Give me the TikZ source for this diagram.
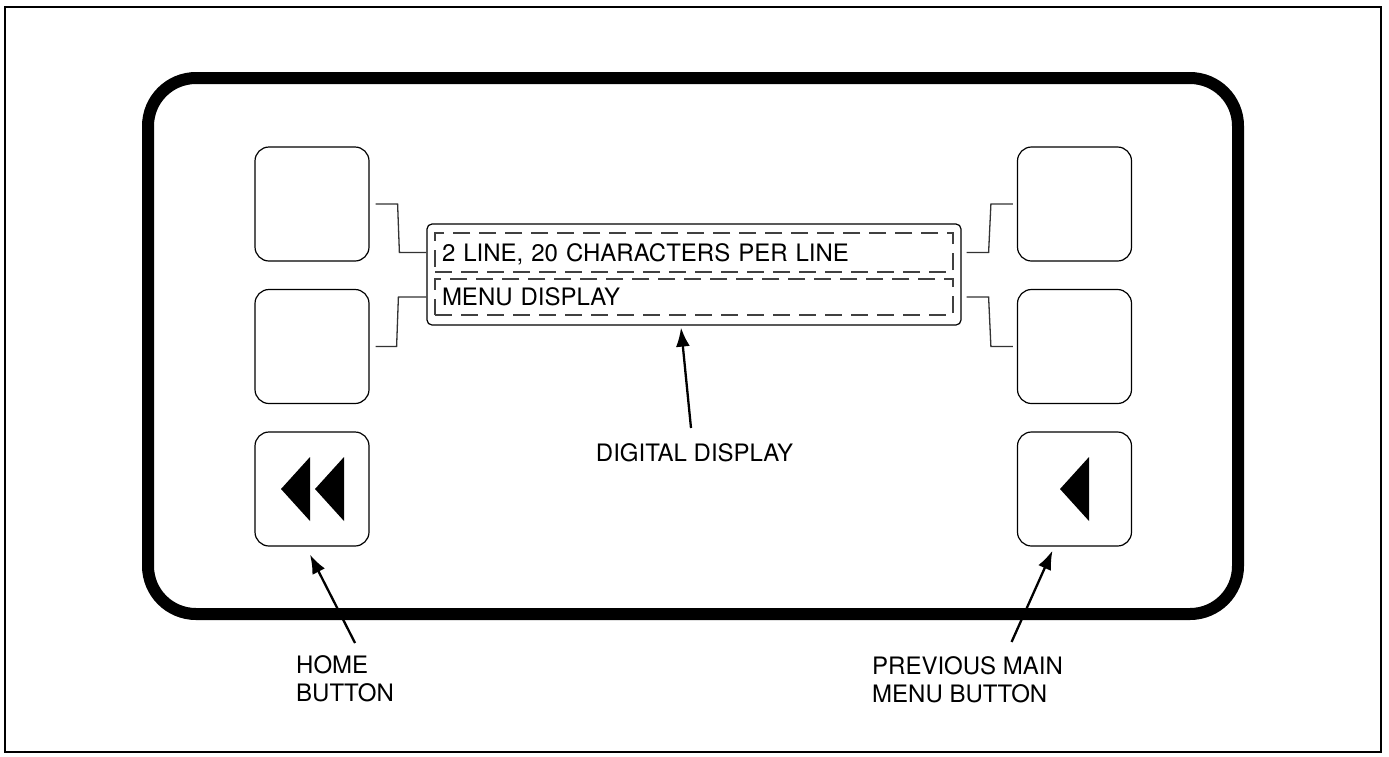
\documentclass[tikz,border=0pt]{standalone}
\usepackage{fontspec}
\setmainfont{TeX Gyre Heros}
\usetikzlibrary{positioning,arrows.meta}

\begin{document}
\begin{tikzpicture} [
		x=1pt, y=-1pt,
		every node/.style={font=\fontsize{24}{28}\selectfont},
		frame/.style={draw, line width=1.5pt},
		panel/.style={rectangle, draw, line width=12pt, rounded corners=48pt, minimum width=1090pt, minimum height=536pt},
		button/.style={rectangle, draw, line width=1.2pt, rounded corners=14pt, minimum size=114pt, inner sep=0pt},
		screen/.style={rectangle, draw, line width=1.2pt, rounded corners=5pt, minimum width=534pt, minimum height=101pt},
		textrow/.style={rectangle, draw=black!75, line width=1.1pt, dash pattern=on 17pt off 9pt, text width=504pt, align=left, inner sep=7pt, minimum height=39pt, text height=17pt, text depth=0pt},
		wire/.style={draw=black!80, line width=1.3pt},
		arrow/.style={line width=2.3pt, -{Latex[length=19pt,width=14pt]}},
		callout/.style={inner sep=0pt, align=left, anchor=north west}
	]
	\useasboundingbox (0,0) rectangle (1389,756);
	\draw [frame] (5,7) rectangle (1381,752);

	\node at (693,346) [panel] (panel) {};

	% keys beside the display
	\node at (312,204)    [button] (lt)   {};
	\node at (312,346.5)  [button] (lm)   {};
	\node at (312,489)    [button] (home) {};
	\node at (1074.5,204)   [button] (rt)   {};
	\node at (1074.5,346.5) [button] (rm)   {};
	\node at (1074.5,489)   [button] (back) {};

	\fill (home.center) ++(-31,0) -- ++(29,-32) -- ++(0,64) -- cycle;
	\fill (home.center) ++(3,0) -- ++(29,-32) -- ++(0,64) -- cycle;
	\fill (back.center) ++(-14.5,0) -- ++(29,-32) -- ++(0,64) -- cycle;

	% display
	\node at (694,274.5) [screen] (display) {};
	\node at (694,252.5) [textrow] (line1) {2 LINE, 20 CHARACTERS PER LINE};
	\node at (694,297)   [textrow, minimum height=36pt] (line2) {MENU DISPLAY};

	\draw [wire] ([xshift=6pt]lt.east) -- ++(22,0) -- ([xshift=-27pt]display.west |- line1.west) -- (display.west |- line1.west);
	\draw [wire] ([xshift=6pt]lm.east) -- ++(21,0) -- ([xshift=-28pt]display.west |- line2.west) -- (display.west |- line2.west);
	\draw [wire] ([xshift=5pt]display.east |- line1.east) -- ([xshift=27pt]display.east |- line1.east) -- ([xshift=-26pt]rt.west) -- ([xshift=-4pt]rt.west);
	\draw [wire] ([xshift=5pt]display.east |- line2.east) -- ([xshift=27pt]display.east |- line2.east) -- ([xshift=-26pt]rm.west) -- ([xshift=-4pt]rm.west);

	% callouts
	\node at (296,655)   [callout] (homelbl) {HOME\\BUTTON};
	\node at (872,656)   [callout] (prevlbl) {PREVIOUS MAIN\\MENU BUTTON};
	\node at (694.5,443) [callout, anchor=north] (displbl) {DIGITAL DISPLAY};

	\draw [arrow] ([xshift=10pt,yshift=12pt]homelbl.north) -- ([xshift=-2pt,yshift=-8pt]home.south);
	\draw [arrow] ([xshift=44pt,yshift=14pt]prevlbl.north) -- ([xshift=-22pt,yshift=-4pt]back.south);
	\draw [arrow] ([xshift=-3.5pt,yshift=15pt]displbl.north) -- ([xshift=-13pt,yshift=-2pt]display.south);
\end{tikzpicture}
\end{document}
